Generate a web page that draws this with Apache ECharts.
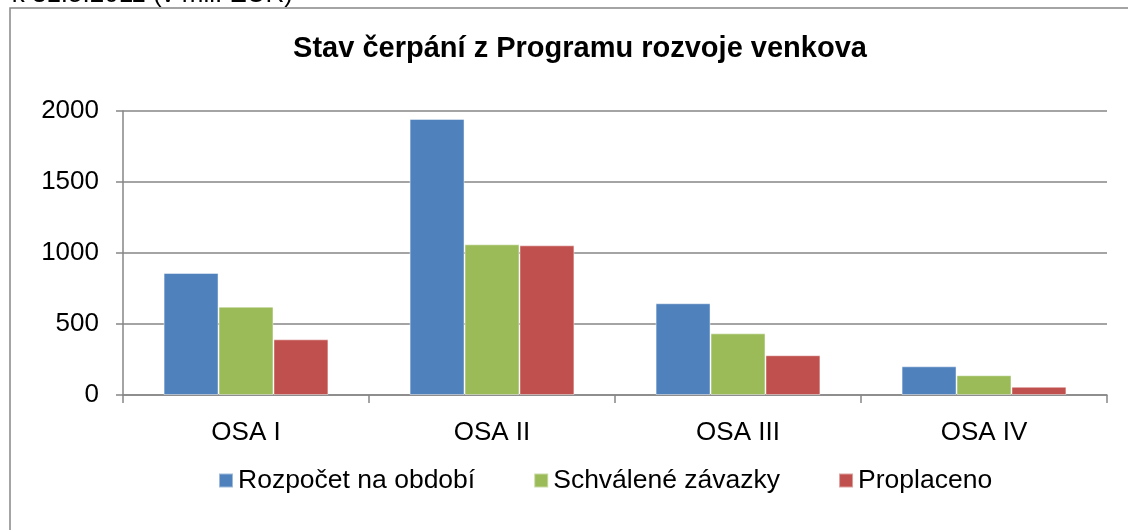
<!DOCTYPE html>
<html>
<head>
<meta charset="utf-8">
<script src="https://cdn.jsdelivr.net/npm/echarts@6/dist/echarts.min.js"></script>
<style>
html,body{margin:0;padding:0;background:#fff;}
#c{width:1128px;height:530px;}
</style>
</head>
<body>
<div id="c"></div>
<script>
const titleText = 'Stav čerpání z Programu rozvoje venkova';
const topNote = 'Stav k 31.5.2011 (v mil. EUR)';
const categories = ['OSA I', 'OSA II', 'OSA III', 'OSA IV'];
const seriesNames = ['Rozpočet na období', 'Schválené závazky', 'Proplaceno'];
const rozpocet = [859, 1944, 646, 202];
const schvalene = [622, 1061, 434, 139];
const proplaceno = [392, 1054, 280, 58];
const yTicks = [0, 500, 1000, 1500, 2000];

const colors = ['#4F81BD', '#9BBB59', '#C0504D'];
const font = '"Liberation Sans", Arial, sans-serif';
const gray = '#868686';

const chart = echarts.init(document.getElementById('c'), null, {renderer: 'canvas'});
const values = [rozpocet, schvalene, proplaceno];
chart.setOption({
  animation: false,
  color: colors,
  textStyle: {fontFamily: font},
  title: {
    text: titleText,
    left: 575, top: 29, textAlign: 'center',
    textStyle: {fontSize: 29, fontWeight: 'bold', color: '#000', fontFamily: font}
  },
  graphic: [
    {type: 'rect', shape: {x: 10, y: 8, width: 1200, height: 600}, style: {fill: 'none', stroke: '#878787', lineWidth: 1.5}, silent: true},
    {type: 'text', x: 293, y: 8, style: {text: topNote, textAlign: 'right', textVerticalAlign: 'bottom', fontSize: 26, fontFamily: font, fill: '#000'}, silent: true}
  ],
  legend: {
    data: seriesNames,
    left: 213, top: 462,
    itemWidth: 14, itemHeight: 14, itemGap: 58,
    icon: 'rect',
    textStyle: {fontSize: 26.5, color: '#000', fontFamily: font, padding: [0,0,0,0]}
  },
  grid: {left: 123, right: 21, top: 111, bottom: 135, containLabel: false},
  xAxis: {
    type: 'category', data: categories,
    axisLine: {lineStyle: {color: gray, width: 1.5}},
    axisTick: {show: true, length: 8, lineStyle: {color: gray, width: 1.5}, alignWithLabel: false},
    axisLabel: {fontSize: 26, color: '#000', margin: 25, fontFamily: font}
  },
  yAxis: {
    type: 'value', min: yTicks[0], max: yTicks[yTicks.length - 1], interval: yTicks[1] - yTicks[0],
    axisLine: {show: true, lineStyle: {color: gray, width: 1.5}},
    axisTick: {show: true, length: 7, lineStyle: {color: gray, width: 1.5}},
    splitLine: {show: true, lineStyle: {color: gray, width: 1.5}},
    axisLabel: {fontSize: 26, color: '#000', margin: 24, fontFamily: font, formatter: v => String(v)}
  },
  series: seriesNames.map((n, i) => ({
    name: n, type: 'bar', data: values[i],
    barGap: '0%', barCategoryGap: '33%',
    itemStyle: {color: colors[i], borderColor: 'rgba(255,255,255,0.45)', borderWidth: 1}
  }))
});
</script>
</body>
</html>
